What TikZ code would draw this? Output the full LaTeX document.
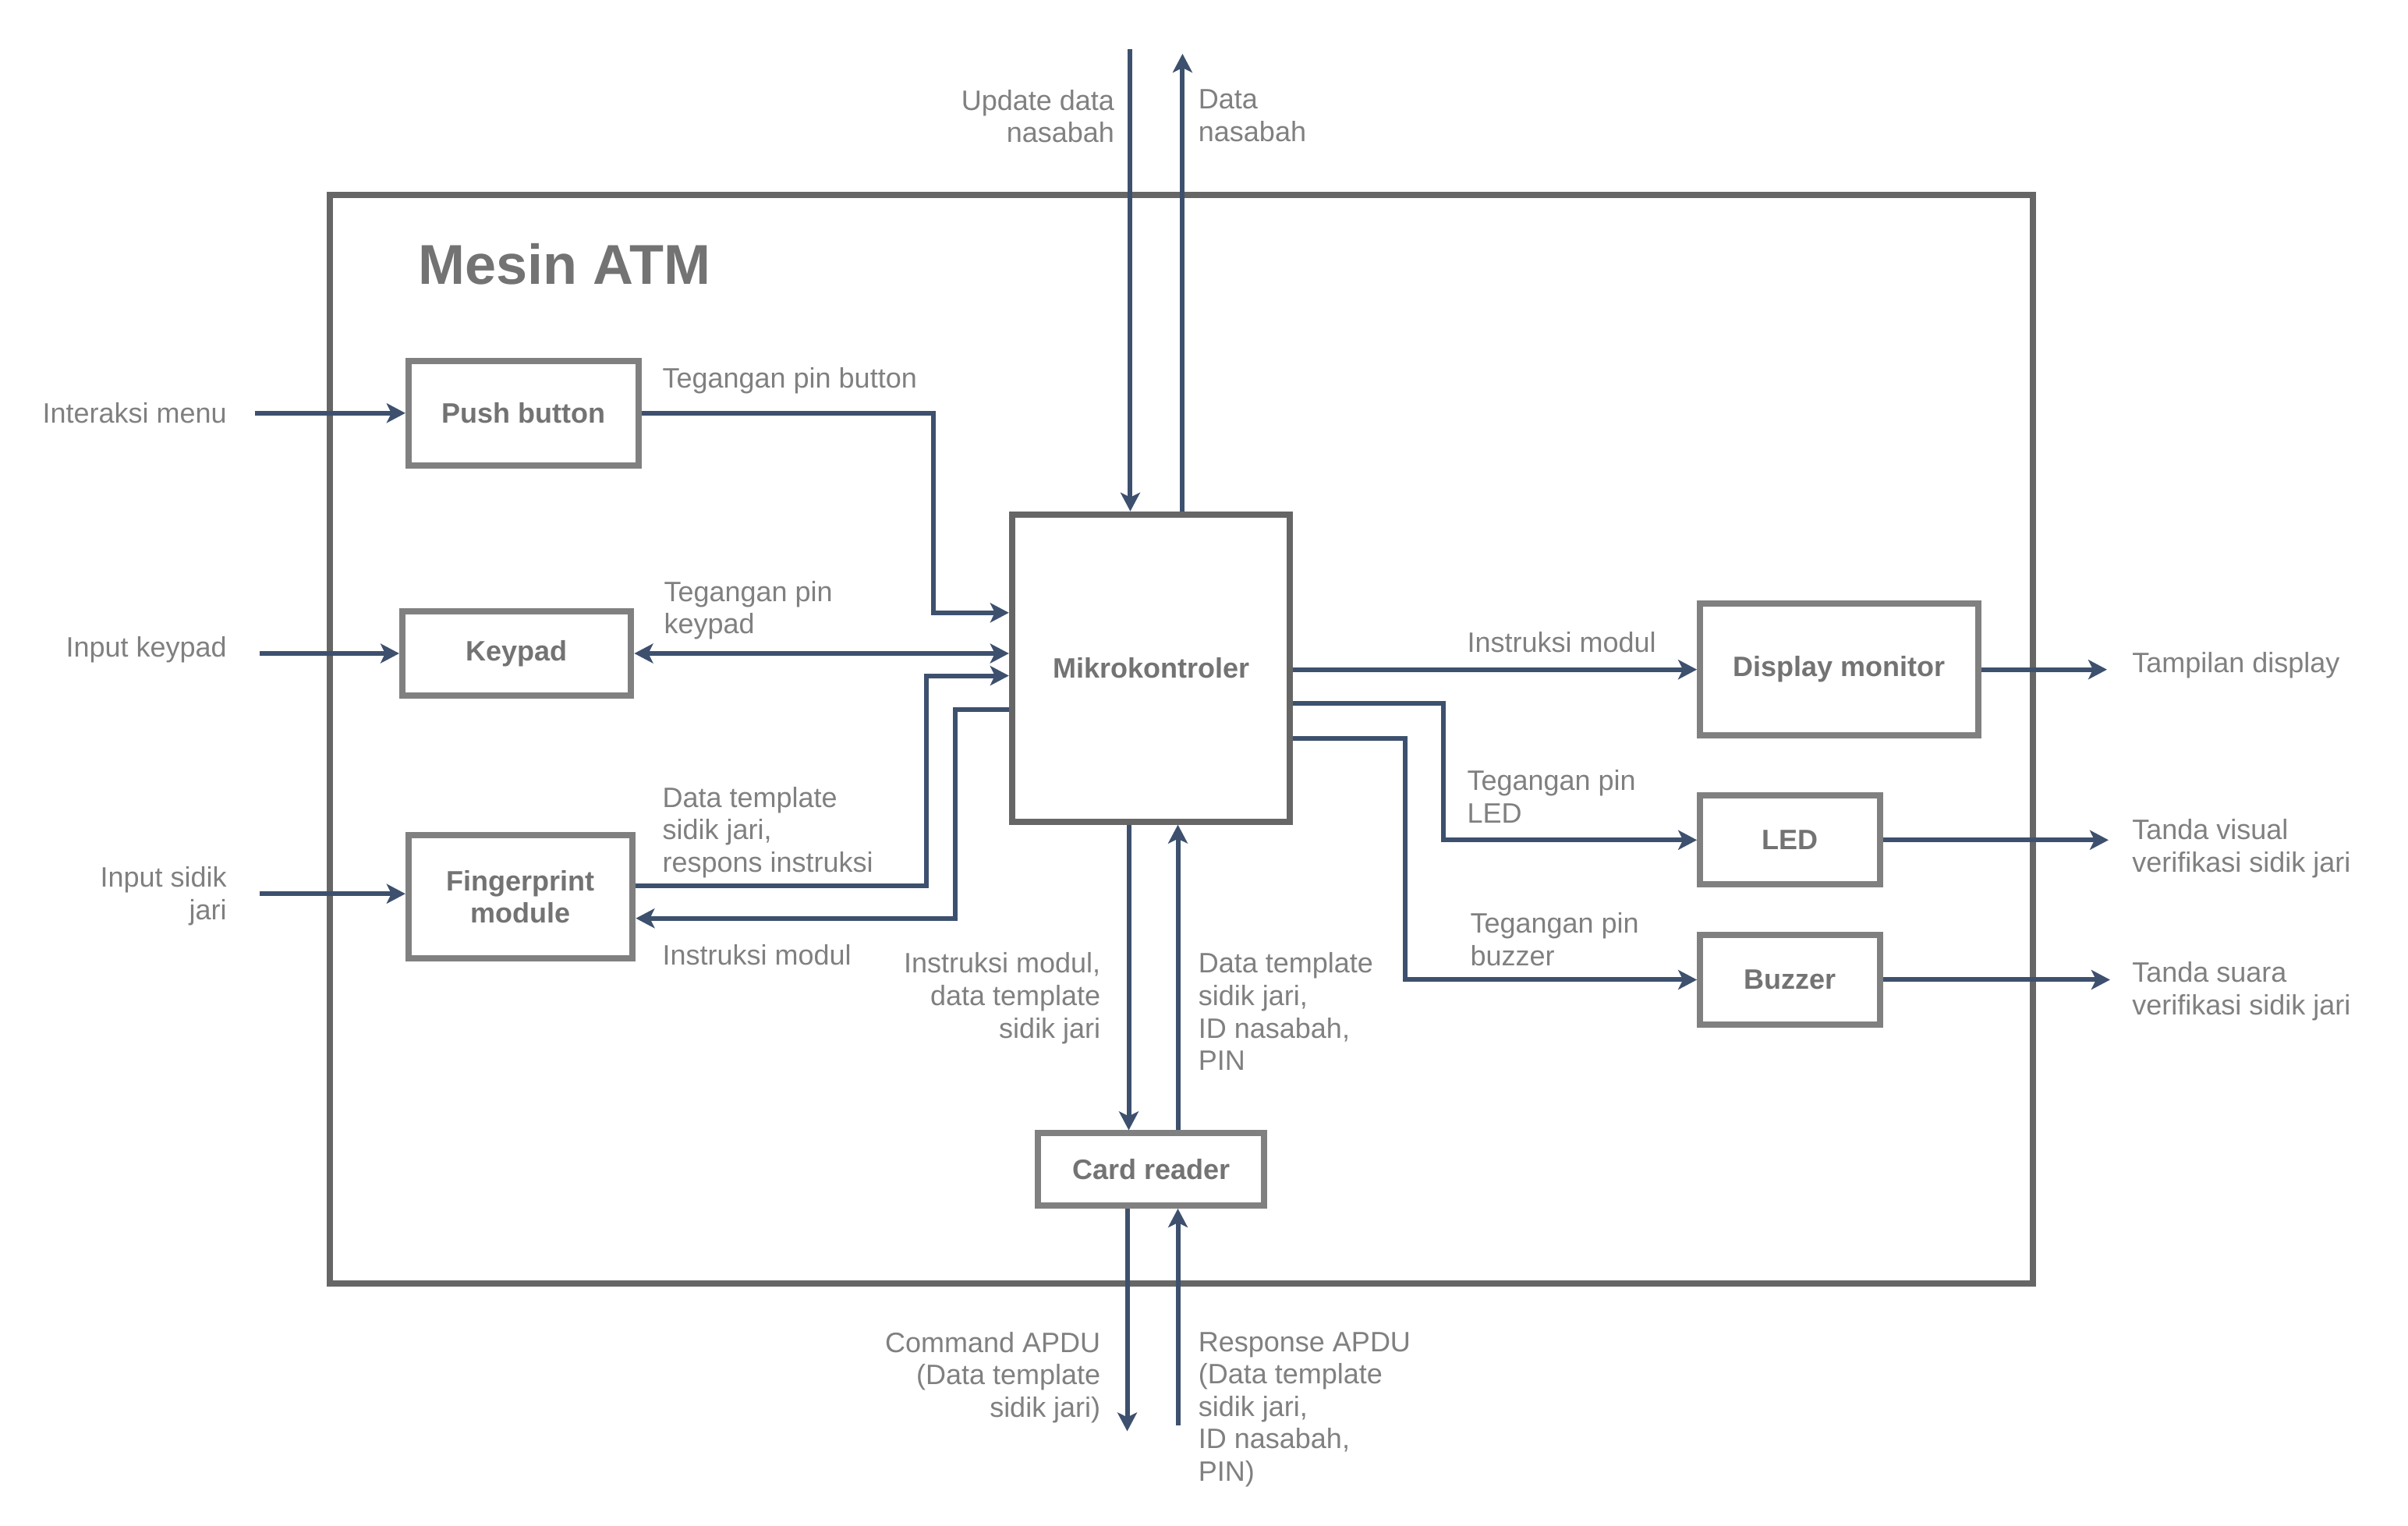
\documentclass[tikz,border=0pt]{standalone}
\usepackage{fontspec}
\setmainfont{Liberation Sans}
\usetikzlibrary{arrows.meta}
\definecolor{arrc}{RGB}{61,80,110}
\definecolor{lblc}{RGB}{128,128,128}
\definecolor{boxc}{RGB}{128,128,128}
\definecolor{framec}{RGB}{102,102,102}
\definecolor{boxtxt}{RGB}{115,115,115}
\begin{document}
\begin{tikzpicture}[x=0.49235pt,y=-0.49235pt,
  blk/.style={draw=boxc, line width=2pt, fill=white, font=\bfseries\fontsize{9}{10.4}\selectfont, text=boxtxt, align=center, inner sep=0pt},
  mblk/.style={blk, draw=framec},
  lbl/.style={font=\fontsize{9}{10.4}\selectfont, text=lblc, inner sep=0pt},
  arr/.style={draw=arrc, line width=1.5pt, -{Stealth[length=6pt,width=6.25pt,inset=1.5pt]}},
  darr/.style={draw=arrc, line width=1.5pt, {Stealth[length=6pt,width=6.25pt,inset=1.5pt]}-{Stealth[length=6pt,width=6.25pt,inset=1.5pt]}}]
\useasboundingbox[fill=white] (0,0) rectangle (1568,993.7);

% frame
\draw[framec, line width=2pt] (215,127) rectangle (1324,836);
\node[font=\bfseries\fontsize{18}{21.6}\selectfont, text=boxtxt, inner sep=0pt, anchor=west] (title) at (272,172) {Mesin ATM};

% blocks
\node[blk, minimum width=73.85pt, minimum height=33.48pt] (push) at (341,269) {Push button};
\node[blk, minimum width=73.36pt, minimum height=27.08pt] (keypad) at (336.5,425.5) {Keypad};
\node[blk, minimum width=71.88pt, minimum height=39.39pt] (finger) at (339,584) {Fingerprint\\module};
\node[mblk, minimum width=89.12pt, minimum height=98.47pt] (mikro) at (749.5,435) {Mikrokontroler};
\node[blk, minimum width=89.12pt, minimum height=42.34pt] (display) at (1197.5,436) {Display monitor};
\node[blk, minimum width=57.6pt, minimum height=28.56pt] (led) at (1165.5,547) {LED};
\node[blk, minimum width=57.6pt, minimum height=28.56pt] (buzzer) at (1165.5,638) {Buzzer};
\node[blk, minimum width=72.38pt, minimum height=23.14pt] (card) at (749.5,761.5) {Card reader};

% helper coordinates
\coordinate (topin) at (736,32);
\coordinate (topout) at (770,35);
\coordinate (in1) at (166,269);
\coordinate (in2) at (169,425.5);
\coordinate (in3) at (169,582);
\coordinate (b1) at (608,399);
\coordinate (b2) at (603,577);
\coordinate (b3) at (603,440);
\coordinate (b4) at (622,462);
\coordinate (b5) at (622,598);
\coordinate (b6) at (940,458);
\coordinate (b7) at (940,547);
\coordinate (b8) at (915,481);
\coordinate (b9) at (915,638);
\coordinate (o1) at (1372,436);
\coordinate (o2) at (1373,547);
\coordinate (o3) at (1374,638);
\coordinate (c1) at (735,0);
\coordinate (c2) at (767,0);
\coordinate (c3) at (734,932);
\coordinate (c4) at (767,928);

% connectors
\draw[arr] (topin) -- (topin |- mikro.north);
\draw[arr] (topout |- mikro.north) -- (topout);
\draw[arr] (in1) -- (in1 -| push.west);
\draw[arr] (in2) -- (in2 -| keypad.west);
\draw[arr] (in3) -- (in3 -| finger.west);
\draw[arr] (push.east) -| (b1) -- (b1 -| mikro.west);
\draw[darr] (keypad.east) -- (keypad.east -| mikro.west);
\draw[arr] (b2 -| finger.east) -- (b2) -- (b3) -- (b3 -| mikro.west);
\draw[arr] (b4 -| mikro.west) -- (b4) -- (b5) -- (b5 -| finger.east);
\draw[arr] (display.west -| mikro.east) -- (display.west);
\draw[arr] (b6 -| mikro.east) -- (b6) -- (b7) -- (b7 -| led.west);
\draw[arr] (b8 -| mikro.east) -- (b8) -- (b9) -- (b9 -| buzzer.west);
\draw[arr] (display.east) -- (o1);
\draw[arr] (led.east) -- (o2);
\draw[arr] (buzzer.east) -- (o3);
\draw[arr] (c1 |- mikro.south) -- (c1 |- card.north);
\draw[arr] (c2 |- card.north) -- (c2 |- mikro.south);
\draw[arr] (c3 |- card.south) -- (c3);
\draw[arr] (c4) -- (c4 |- card.south);

% labels
\node[lbl, anchor=north east, align=right] (l1) at (726,58) {Update data\\nasabah};
\node[lbl, anchor=north west, align=left] (l2) at (780,58) {Data\\nasabah};
\node[lbl, anchor=east] (l3) at (148,269) {Interaksi menu};
\node[lbl, anchor=east] (l4) at (148,423) {Input keypad};
\node[lbl, anchor=north east, align=right] (l5) at (148,564) {Input sidik\\jari};
\node[lbl, anchor=west] (l6) at (431,248) {Tegangan pin button};
\node[lbl, anchor=north west, align=left] (l7) at (432,378) {Tegangan pin\\keypad};
\node[lbl, anchor=north west, align=left] (l8) at (431,512) {Data template\\sidik jari,\\respons instruksi};
\node[lbl, anchor=west] (l9) at (431,622) {Instruksi modul};
\node[lbl, anchor=west] (l10) at (955,418) {Instruksi modul};
\node[lbl, anchor=north west, align=left] (l11) at (955,501) {Tegangan pin\\LED};
\node[lbl, anchor=north west, align=left] (l12) at (957,594) {Tegangan pin\\buzzer};
\node[lbl, anchor=west] (l13) at (1388,433) {Tampilan display};
\node[lbl, anchor=north west, align=left] (l14) at (1388,533) {Tanda visual\\verifikasi sidik jari};
\node[lbl, anchor=north west, align=left] (l15) at (1388,626) {Tanda suara\\verifikasi sidik jari};
\node[lbl, anchor=north east, align=right] (l16) at (717,620) {Instruksi modul,\\data template\\sidik jari};
\node[lbl, anchor=north west, align=left] (l17) at (780,620) {Data template\\sidik jari,\\ID nasabah,\\PIN};
\node[lbl, anchor=north east, align=right] (l18) at (717,867) {Command APDU\\(Data template\\sidik jari)};
\node[lbl, anchor=north west, align=left] (l19) at (780,867) {Response APDU\\(Data template\\sidik jari,\\ID nasabah,\\PIN)};
\end{tikzpicture}
\end{document}
